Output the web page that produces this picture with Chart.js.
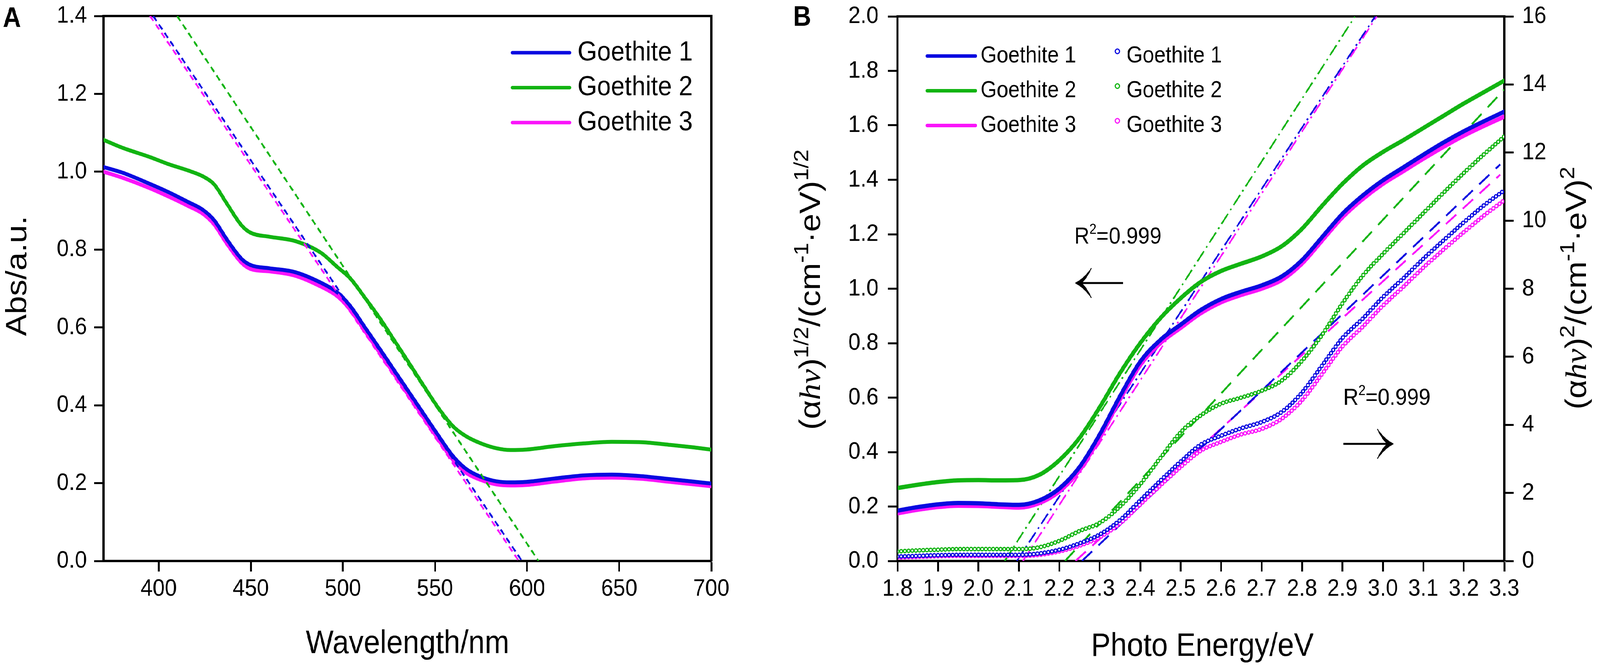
<!DOCTYPE html>
<html>
<head>
<meta charset="utf-8">
<script src="https://cdn.jsdelivr.net/npm/chart.js@4.4.1/dist/chart.umd.min.js"></script>
<style>
  html, body { margin: 0; padding: 0; background: #fff; overflow: hidden; }
  #stage { position: absolute; left: 0; top: 0; width: 4562px; height: 1706px; transform-origin: 0 0; }
  canvas { position: absolute; top: 0; }
  #chartA { left: 0; }
  #chartB { left: 2200px; }
</style>
</head>
<body>
<div id="stage">
  <canvas id="chartA" width="2200" height="1706"></canvas>
  <canvas id="chartB" width="2362" height="1706"></canvas>
</div>
<script>
// ── Panel A: absorbance spectra ───────────────────────────────────────
const wavelength = [370, 380, 395, 405, 416, 424, 430, 437, 445, 450,
                    460, 474, 488, 497, 504, 512, 520, 528, 536, 544,
                    552, 560, 567, 575, 583, 591, 599, 615, 631, 646,
                    662, 678, 690, 700];
const absG1 = [1.012, 0.998, 0.969, 0.948, 0.922, 0.902, 0.876, 0.826, 0.776, 0.760,
               0.752, 0.742, 0.715, 0.690, 0.655, 0.600, 0.545, 0.489, 0.433, 0.377,
               0.321, 0.268, 0.236, 0.216, 0.205, 0.202, 0.203, 0.212, 0.220, 0.222,
               0.218, 0.210, 0.204, 0.199];
const absG2 = [1.082, 1.062, 1.038, 1.020, 1.003, 0.988, 0.968, 0.918, 0.862, 0.843,
               0.833, 0.822, 0.792, 0.755, 0.726, 0.676, 0.624, 0.566, 0.508, 0.449,
               0.392, 0.345, 0.320, 0.302, 0.290, 0.285, 0.286, 0.295, 0.302, 0.306,
               0.305, 0.298, 0.292, 0.286];
const absG3 = [1.000, 0.985, 0.958, 0.937, 0.912, 0.892, 0.865, 0.815, 0.766, 0.750,
               0.744, 0.733, 0.705, 0.680, 0.645, 0.590, 0.535, 0.479, 0.423, 0.367,
               0.311, 0.258, 0.226, 0.208, 0.197, 0.194, 0.195, 0.204, 0.212, 0.214,
               0.211, 0.203, 0.197, 0.192];
// tangent lines (absorption edge)
const edgeA1 = [{ x: 397.0, y: 1.4 }, { x: 597.2, y: 0 }];
const edgeA2 = [{ x: 410.0, y: 1.4 }, { x: 606.2, y: 0 }];
const edgeA3 = [{ x: 395.3, y: 1.4 }, { x: 595.5, y: 0 }];
const xTicksA = [400, 450, 500, 550, 600, 650, 700];
const yTicksA = [0, 0.2, 0.4, 0.6, 0.8, 1.0, 1.2, 1.4];

// ── Panel B: Tauc plots ───────────────────────────────────────────────
const energy = [1.80, 1.85, 1.90, 1.95, 2.00, 2.05, 2.10, 2.15, 2.20, 2.25,
                2.30, 2.35, 2.40, 2.45, 2.50, 2.55, 2.60, 2.65, 2.70, 2.75,
                2.80, 2.85, 2.90, 2.95, 3.00, 3.05, 3.10, 3.15, 3.20, 3.25, 3.30];
// (αhν)^1/2, left axis
const sqrtG1 = [0.185, 0.198, 0.208, 0.213, 0.212, 0.208, 0.206, 0.222, 0.266, 0.345,
                0.465, 0.605, 0.732, 0.812, 0.868, 0.922, 0.962, 0.989, 1.012, 1.045,
                1.105, 1.190, 1.275, 1.342, 1.398, 1.445, 1.492, 1.537, 1.578, 1.615, 1.650];
const sqrtG2 = [0.268, 0.280, 0.290, 0.296, 0.297, 0.296, 0.297, 0.316, 0.370, 0.452,
                0.565, 0.690, 0.800, 0.892, 0.965, 1.025, 1.065, 1.092, 1.118, 1.156,
                1.220, 1.305, 1.385, 1.452, 1.502, 1.545, 1.590, 1.635, 1.680, 1.722, 1.764];
const sqrtG3 = [0.175, 0.188, 0.198, 0.203, 0.202, 0.199, 0.196, 0.212, 0.255, 0.333,
                0.452, 0.592, 0.719, 0.800, 0.856, 0.910, 0.950, 0.977, 1.000, 1.032,
                1.092, 1.177, 1.262, 1.329, 1.385, 1.431, 1.477, 1.521, 1.562, 1.598, 1.632];
// (αhν)^2, right axis
const sqG1 = [0.13, 0.15, 0.17, 0.18, 0.18, 0.18, 0.18, 0.22, 0.33, 0.52,
              0.78, 1.20, 1.78, 2.36, 2.92, 3.42, 3.68, 3.90, 4.08, 4.38,
              4.95, 5.75, 6.55, 7.12, 7.75, 8.30, 8.88, 9.42, 9.95, 10.45, 10.89];
const sqG2 = [0.28, 0.31, 0.33, 0.35, 0.35, 0.35, 0.35, 0.40, 0.59, 0.88,
              1.12, 1.60, 2.25, 3.03, 3.78, 4.28, 4.62, 4.80, 5.00, 5.30,
              5.88, 6.65, 7.57, 8.38, 9.02, 9.62, 10.22, 10.82, 11.40, 11.95, 12.47];
const sqG3 = [0.10, 0.12, 0.14, 0.15, 0.15, 0.15, 0.15, 0.18, 0.28, 0.45,
              0.70, 1.10, 1.66, 2.22, 2.76, 3.24, 3.50, 3.72, 3.88, 4.18,
              4.72, 5.50, 6.30, 6.88, 7.50, 8.05, 8.62, 9.15, 9.66, 10.15, 10.60];
// linear fits
const fitSqrt1 = [{ x: 2.095, y: 0 }, { x: 2.981, y: 2 }];
const fitSqrt2 = [{ x: 2.065, y: 0 }, { x: 2.931, y: 2 }];
const fitSqrt3 = [{ x: 2.110, y: 0 }, { x: 2.985, y: 2 }];
const fitSq1 = [{ x: 2.256, y: 0 }, { x: 3.29, y: 11.65 }];
const fitSq2 = [{ x: 2.214, y: 0 }, { x: 3.30, y: 13.85 }];
const fitSq3 = [{ x: 2.240, y: 0 }, { x: 3.29, y: 11.35 }];
const xTicksB = [1.8, 1.9, 2.0, 2.1, 2.2, 2.3, 2.4, 2.5, 2.6, 2.7, 2.8, 2.9, 3.0, 3.1, 3.2, 3.3];
const yTicksB = [0, 0.2, 0.4, 0.6, 0.8, 1.0, 1.2, 1.4, 1.6, 1.8, 2.0];
const y2TicksB = [0, 2, 4, 6, 8, 10, 12, 14, 16];

const SERIES = ['Goethite 1', 'Goethite 2', 'Goethite 3'];

// the drawing is laid out on a 4562 x 1706 grid; stretch it onto the real viewport
const FIT_X = window.innerWidth / 4562;
const FIT_Y = window.innerHeight / 1706;
document.getElementById('stage').style.transform = 'scale(' + FIT_X + ',' + FIT_Y + ')';

// ── style ─────────────────────────────────────────────────────────────
const COLORS = ['#0a0ae0', '#12b412', '#fa14fa'];
const SANS = '"Liberation Sans", Arial, sans-serif';
const font = (size, style) => (style ? style + ' ' : '') + size + 'px ' + SANS;
const ITALIC_SERIF = 'italic 84px "Liberation Serif", "Times New Roman", serif';

const pts = (xs, ys) => xs.map((x, i) => ({ x, y: ys[i] }));
const fixW = w => s => { s.width = w; s.paddingTop = 0; s.paddingBottom = 0; };
const fixH = h => s => { s.height = h; s.paddingLeft = 0; s.paddingRight = 0; };
const useTicks = arr => s => { s.ticks = arr.map(v => ({ value: v })); };

function tickAxis(position, min, max, ticksArr, fit, pad, fmt) {
  const horiz = position === 'top' || position === 'bottom';
  return {
    type: 'linear', position, min, max, display: true,
    afterBuildTicks: useTicks(ticksArr),
    afterFit: horiz ? fixH(fit) : fixW(fit),
    border: { display: true, color: '#000', width: 6 },
    grid: { drawOnChartArea: false, drawTicks: true, tickLength: 27, tickWidth: 5, tickColor: '#000' },
    ticks: {
      color: '#000', font: { family: SANS, size: 62 }, padding: pad,
      autoSkip: false, maxRotation: 0, minRotation: 0,
      callback: fmt
    }
  };
}

function frameAxis(position) {
  const horiz = position === 'top' || position === 'bottom';
  return {
    type: 'linear', position, min: 0, max: 1, display: true,
    afterFit: horiz ? fixH(0) : fixW(0),
    border: { display: true, color: '#000', width: 6 },
    grid: { drawOnChartArea: false, drawTicks: false },
    ticks: { display: false }
  };
}

const solid = (i, data, width, order, axis) => ({
  label: SERIES[i], data, yAxisID: axis || 'y',
  borderColor: COLORS[i], borderWidth: width, borderCapStyle: 'round',
  cubicInterpolationMode: 'monotone', pointRadius: 0, order
});
const broken = (i, data, dash, width, order, axis) => ({
  label: SERIES[i] + ' fit', data, yAxisID: axis || 'y',
  borderColor: COLORS[i], borderWidth: width, borderDash: dash,
  pointRadius: 0, order
});
// open circles: a round-capped dotted line, hollowed by a thinner white dotted line on top
const rings = (i, ys, order) => {
  const base = {
    data: pts(energy, ys), yAxisID: 'y2', borderDash: [0, 10.5], borderCapStyle: 'round',
    cubicInterpolationMode: 'monotone', pointRadius: 0
  };
  return [
    Object.assign({ label: SERIES[i] + ' (αhν)²', borderColor: COLORS[i], borderWidth: 12, order: order + 0.5 }, base),
    Object.assign({ label: '', borderColor: '#fff', borderWidth: 5.5, order }, base)
  ];
};

// ── drawing helpers ───────────────────────────────────────────────────
function richText(ctx, parts, x, y, angle, align) {
  ctx.save();
  ctx.translate(x, y);
  ctx.rotate(angle || 0);
  ctx.textAlign = 'left';
  ctx.textBaseline = 'alphabetic';
  ctx.fillStyle = '#000';
  let total = 0;
  parts.forEach(p => { ctx.font = p.f; p.w = ctx.measureText(p.t).width; total += p.w; });
  let cx = align === 'center' ? -total / 2 : 0;
  parts.forEach(p => { ctx.font = p.f; ctx.fillText(p.t, cx, -(p.up || 0)); cx += p.w; });
  ctx.restore();
}

function drawArrow(ctx, tipX, tailX, y) {
  const s = Math.sign(tailX - tipX);
  ctx.save();
  ctx.strokeStyle = '#000';
  ctx.fillStyle = '#000';
  ctx.lineWidth = 5;
  ctx.beginPath();
  ctx.moveTo(tipX + s * 6, y);
  ctx.lineTo(tailX, y);
  ctx.stroke();
  ctx.beginPath();
  ctx.moveTo(tipX, y);
  ctx.quadraticCurveTo(tipX + s * 24, y - 10, tipX + s * 46, y - 38);
  ctx.quadraticCurveTo(tipX + s * 28, y - 6, tipX + s * 16, y);
  ctx.quadraticCurveTo(tipX + s * 28, y + 6, tipX + s * 46, y + 38);
  ctx.quadraticCurveTo(tipX + s * 24, y + 10, tipX, y);
  ctx.fill();
  ctx.lineWidth = 2;
  ctx.stroke();
  ctx.restore();
}

function legendLine(ctx, x0, x1, y, color, width) {
  ctx.save();
  ctx.strokeStyle = color;
  ctx.lineWidth = width;
  ctx.lineCap = 'round';
  ctx.beginPath();
  ctx.moveTo(x0, y);
  ctx.lineTo(x1, y);
  ctx.stroke();
  ctx.restore();
}

function label(ctx, text, x, y, f) {
  ctx.save();
  ctx.font = f;
  ctx.fillStyle = '#000';
  ctx.textAlign = 'left';
  ctx.textBaseline = 'middle';
  ctx.fillText(text, x, y);
  ctx.restore();
}

const SUP = 58, UP = 34;

const decorA = {
  id: 'decorA',
  afterDraw(chart) {
    const ctx = chart.ctx;
    [135, 224.5, 314].forEach((y, i) => {
      legendLine(ctx, 1461, 1624, y, COLORS[i], 9);
      label(ctx, SERIES[i], 1647, y, font(71));
    });
    richText(ctx, [{ t: 'A', f: font(72, 'bold') }], 8, 69);
    richText(ctx, [{ t: 'Abs/a.u.', f: font(84) }], 75, 707, -Math.PI / 2, 'center');
    richText(ctx, [{ t: 'Wavelength/nm', f: font(84) }], 1162, 1673, 0, 'center');
  }
};

const decorB = {
  id: 'decorB',
  afterDraw(chart) {
    const ctx = chart.ctx;
    [143.5, 232.5, 321.5].forEach((y, i) => {
      legendLine(ctx, 444, 581, y, COLORS[i], 9);
      label(ctx, SERIES[i], 596, y, font(59));
      ctx.save();
      ctx.strokeStyle = COLORS[i];
      ctx.lineWidth = 3;
      ctx.beginPath();
      ctx.arc(986, y - 12, 6, 0, Math.PI * 2);
      ctx.stroke();
      ctx.restore();
      label(ctx, SERIES[i], 1012, y, font(59));
    });
    const r2 = [{ t: 'R', f: font(60) }, { t: '2', f: font(36), up: 25 }, { t: '=0.999', f: font(60) }];
    richText(ctx, r2, 863, 624);
    richText(ctx, r2, 1630, 1037);
    drawArrow(ctx, 866, 1002, 725);
    drawArrow(ctx, 1773, 1630, 1137);
    richText(ctx, [{ t: 'B', f: font(72, 'bold') }], 61, 66);
    const left = [
      { t: '(α', f: font(84) }, { t: 'hν', f: ITALIC_SERIF }, { t: ')', f: font(84) },
      { t: '1/2', f: font(SUP), up: UP }, { t: '/(cm', f: font(84) }, { t: '-1', f: font(SUP), up: UP },
      { t: '·eV)', f: font(84) }, { t: '1/2', f: font(SUP), up: UP }
    ];
    const right = [
      { t: '(α', f: font(84) }, { t: 'hν', f: ITALIC_SERIF }, { t: ')', f: font(84) },
      { t: '2', f: font(SUP), up: UP }, { t: '/(cm', f: font(84) }, { t: '-1', f: font(SUP), up: UP },
      { t: '·eV)', f: font(84) }, { t: '2', f: font(SUP), up: UP }
    ];
    richText(ctx, left, 138, 742, -Math.PI / 2, 'center');
    richText(ctx, right, 2322, 738, -Math.PI / 2, 'center');
    richText(ctx, [{ t: 'Photo Energy/eV', f: font(84) }], 1228, 1680, 0, 'center');
  }
};

const common = {
  responsive: false,
  animation: false,
  devicePixelRatio: 1,
  events: [],
  plugins: { legend: { display: false }, tooltip: { enabled: false } }
};

// ── Panel A chart ─────────────────────────────────────────────────────
new Chart(document.getElementById('chartA'), {
  type: 'line',
  data: {
    datasets: [
      solid(0, pts(wavelength, absG1), 10, 1),
      solid(2, pts(wavelength, absG3), 10, 2),
      solid(1, pts(wavelength, absG2), 10, 3),
      broken(0, edgeA1, [16, 11], 5, 0.5),
      broken(2, edgeA3, [16, 11], 5, 0.6),
      broken(1, edgeA2, [16, 11], 5, 0.7)
    ]
  },
  options: Object.assign({}, common, {
    layout: { padding: { left: 0, top: 41, right: 172, bottom: 0 } },
    scales: {
      x: tickAxis('bottom', 370, 700, xTicksA, 269, 8, v => String(v)),
      y: tickAxis('left', 0, 1.4, yTicksA, 295, 20, v => v.toFixed(1)),
      xt: frameAxis('top'),
      yr: frameAxis('right')
    }
  }),
  plugins: [decorA]
});

// ── Panel B chart ─────────────────────────────────────────────────────
new Chart(document.getElementById('chartB'), {
  type: 'line',
  data: {
    datasets: [
      solid(0, pts(energy, sqrtG1), 11, 1),
      solid(2, pts(energy, sqrtG3), 11, 2),
      solid(1, pts(energy, sqrtG2), 11, 3),
      ...rings(0, sqG1, 4),
      ...rings(2, sqG3, 6),
      ...rings(1, sqG2, 8),
      broken(0, fitSqrt1, [32, 11, 5, 11], 4.5, 10),
      broken(2, fitSqrt3, [32, 11, 5, 11], 4.5, 11),
      broken(1, fitSqrt2, [32, 11, 5, 11], 4.5, 12),
      broken(0, fitSq1, [38, 24], 5, 13, 'y2'),
      broken(2, fitSq3, [38, 24], 5, 14, 'y2'),
      broken(1, fitSq2, [38, 24], 5, 15, 'y2')
    ]
  },
  options: Object.assign({}, common, {
    layout: { padding: { left: 0, top: 42, right: 0, bottom: 0 } },
    scales: {
      x: tickAxis('bottom', 1.8, 3.3, xTicksB, 269, 8, v => v.toFixed(1)),
      y: tickAxis('left', 0, 2.0, yTicksB, 359, 27, v => v.toFixed(1)),
      y2: tickAxis('right', 0, 16, y2TicksB, 273, 24, v => String(v)),
      xt: frameAxis('top')
    }
  }),
  plugins: [decorB]
});
</script>
</body>
</html>
